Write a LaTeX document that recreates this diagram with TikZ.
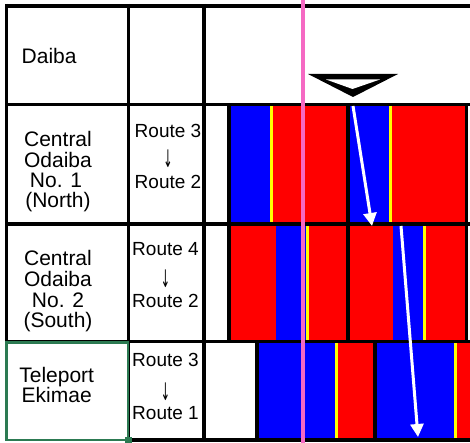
\documentclass[tikz,border=0pt]{standalone}
\usepackage{fontspec}
\setmainfont{Liberation Sans}
\newfontfamily\arrowfont{DejaVu Sans}
\usetikzlibrary{arrows.meta}
\definecolor{cred}{RGB}{255,0,0}
\definecolor{cblue}{RGB}{0,0,255}
\definecolor{cyel}{RGB}{255,255,0}
\definecolor{pinkline}{RGB}{245,105,195}
\definecolor{selgreen}{RGB}{44,122,82}
\tikzset{
  gridline/.style={line width=3.8pt, black},
  carline/.style={line width=3.8pt, black},
  stationlbl/.style={inner sep=0pt, anchor=base, font=\fontsize{21}{21}\selectfont},
  routelbl/.style={inner sep=0pt, anchor=base, font=\fontsize{19}{19}\selectfont},
  downlbl/.style={inner sep=0pt, anchor=center, font=\arrowfont\fontsize{22}{22}\selectfont},
  movearrow/.style={white, line width=3pt, -{Triangle[length=13pt,width=13pt]}},
}
\newcommand{\thindown}{\scalebox{0.5}[1.1]{↓}}
\begin{document}
\begin{tikzpicture}[x=1pt,y=-1pt]
\useasboundingbox (0,0) rectangle (470,443);
\fill[white] (0,0) rectangle (470,443);

% ---- row 2 cars ----
\fill[cblue] (229,104.5) rectangle (270,224);
\fill[cyel]  (270,104.5) rectangle (272.5,224);
\fill[cred]  (272.5,104.5) rectangle (348,224);
\fill[cblue] (348,104.5) rectangle (389,224);
\fill[cyel]  (389,104.5) rectangle (391.5,224);
\fill[cred]  (391.5,104.5) rectangle (466.5,224);
% ---- row 3 cars ----
\fill[cred]  (229,224) rectangle (276,341.5);
\fill[cblue] (276,224) rectangle (306,341.5);
\fill[cyel]  (306,224) rectangle (308.5,341.5);
\fill[cred]  (308.5,224) rectangle (348,341.5);
\fill[cred]  (348,224) rectangle (393,341.5);
\fill[cblue] (393,224) rectangle (423,341.5);
\fill[cyel]  (423,224) rectangle (425.5,341.5);
\fill[cred]  (425.5,224) rectangle (466.5,341.5);
% ---- row 4 cars ----
\fill[cblue] (257,341.5) rectangle (335,440);
\fill[cyel]  (335,341.5) rectangle (337.5,440);
\fill[cred]  (337.5,341.5) rectangle (375,440);
\fill[cblue] (375,341.5) rectangle (454,440);
\fill[cyel]  (454,341.5) rectangle (456.5,440);
\fill[cred]  (456.5,341.5) rectangle (470,440);

% ---- grid ----
\draw[gridline] (5,6) -- (470,6);
\draw[gridline] (5,104.5) -- (470,104.5);
\draw[gridline] (5,224) -- (470,224);
\draw[gridline] (5,341.5) -- (470,341.5);
\draw[gridline] (128.5,440) -- (470,440);
\draw[gridline] (6.5,4) -- (6.5,343);
\draw[gridline] (128.5,4) -- (128.5,442);
\draw[gridline] (204,4) -- (204,442);
% car borders
\draw[carline] (229,104.5) -- (229,341.5);
\draw[carline] (348,104.5) -- (348,341.5);
\draw[carline] (466.5,104.5) -- (466.5,341.5);
\draw[carline] (257,341.5) -- (257,440);
\draw[carline] (375,341.5) -- (375,440);

% selection frame
\draw[selgreen, line width=2.6pt] (6.5,342.5) rectangle (128,440);
\fill[selgreen] (124.5,436.5) rectangle (131.5,443);

% stop marker
\fill[black] (308,74) -- (398,74) -- (353,97) -- cycle;
\fill[white] (326,79.5) -- (380,79.5) -- (352.5,89) -- cycle;

% station texts
\node[stationlbl, anchor=base west] (daiba) at (21.5,64) {Daiba};
\node[stationlbl] (c1a) at (58,146.7) {Central};
\node[stationlbl] (c1b) at (58,167.5) {Odaiba};
\node[stationlbl] (c1c) at (56,187.8) {No. 1};
\node[stationlbl] (c1d) at (58,207.5) {(North)};
\node[stationlbl] (c2a) at (58,265) {Central};
\node[stationlbl] (c2b) at (58,286) {Odaiba};
\node[stationlbl] (c2c) at (58,307) {No. 2};
\node[stationlbl] (c2d) at (58,327) {(South)};
\node[stationlbl] (t1) at (56.7,382.7) {Teleport};
\node[stationlbl] (t2) at (56.7,402.7) {Ekimae};
% route texts
\node[routelbl] (r1a) at (168,137.3) {Route 3};
\node[downlbl]  (r1b) at (168,159) {\thindown};
\node[routelbl] (r1c) at (168,188.3) {Route 2};
\node[routelbl] (r2a) at (165.5,255) {Route 4};
\node[downlbl]  (r2b) at (165.5,279) {\thindown};
\node[routelbl] (r2c) at (165.5,307) {Route 2};
\node[routelbl] (r3a) at (165.5,366.7) {Route 3};
\node[downlbl]  (r3b) at (165.5,391.5) {\thindown};
\node[routelbl] (r3c) at (165.5,419.3) {Route 1};

% pink reference line
\draw[pinkline, line width=3.6pt] (303,0) -- (303,443);

% movement arrows
\coordinate (a1s) at (353,106);
\coordinate (a1e) at (372,226);
\coordinate (a2s) at (401,226);
\coordinate (a2e) at (418,437);
\draw[movearrow] (a1s) -- (a1e);
\draw[movearrow] (a2s) -- (a2e);
\end{tikzpicture}
\end{document}
